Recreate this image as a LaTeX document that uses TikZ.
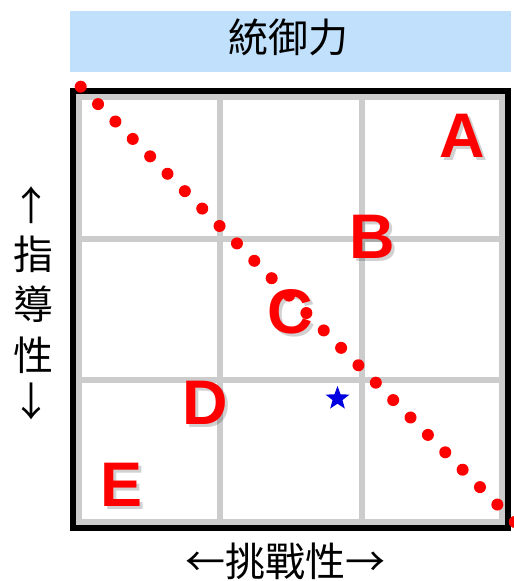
\documentclass[tikz,border=0pt]{standalone}
\usepackage{fontspec}
\setmainfont{Liberation Sans}
\newfontfamily\cjk{Noto Sans CJK TC}
\usetikzlibrary{shapes.geometric}
\definecolor{banner}{RGB}{192,224,252}
\definecolor{gridgray}{RGB}{204,204,204}
\definecolor{zonered}{RGB}{255,0,0}
\definecolor{starblue}{RGB}{0,0,225}
\begin{document}
\begin{tikzpicture}[x=1pt,y=-1pt,
  gridline/.style={draw=gridgray,line width=6pt},
  frameline/.style={draw=black,line width=6pt},
  zone/.style={font=\fontsize{63}{63}\selectfont\bfseries,text=zonered,inner sep=0pt},
  zoneshadow/.style={font=\fontsize{63}{63}\selectfont\bfseries,text=black,opacity=0.18,inner sep=0pt},
  cjklabel/.style={font=\cjk\fontsize{40}{40}\selectfont,inner sep=0pt},
  reddot/.style={fill=zonered,draw=none}]
\useasboundingbox (0,0) rectangle (514,581);
% banner
\fill[banner] (70,11) rectangle (511,72);
\node[cjklabel] (title) at (288,37) {統御力};
% grid
\draw[gridline] (79,97) rectangle (502,522);
\draw[gridline] (220,97) -- (220,522);
\draw[gridline] (362,97) -- (362,522);
\draw[gridline] (79,239) -- (502,239);
\draw[gridline] (79,380) -- (502,380);
\draw[frameline] (73,91) rectangle (508,528);
% zone letters with soft shadows
\foreach \nm/\lt/\px/\py in {A/A/462/136, B/B/372/237, C/C/290/312, D/D/205/403, E/E/122/485}{
  \node[zoneshadow] at (\px+3,\py+3) {\lt};
  \node[zone] (zone\nm) at (\px,\py) {\lt};
}
% star
\node[star,star points=5,star point ratio=2.4,fill=starblue,draw=none,minimum size=25pt,inner sep=0pt] (mark) at (337.5,398.5) {};
% dotted diagonal
\foreach \i in {0,...,25}{
  \fill[reddot] ({80.7+17.36*\i},{86.7+17.41*\i}) circle[radius=6pt];
}
% left label
\node[cjklabel] (up) at (32,205) {↑};
\node[cjklabel] (zhi) at (33,254) {指};
\node[cjklabel] (dao) at (33,304) {導};
\node[cjklabel] (xing) at (33,355) {性};
\node[cjklabel] (down) at (32,401) {↓};
% bottom label
\node[cjklabel] (bottom) at (285,561) {←挑戰性→};
\end{tikzpicture}
\end{document}
